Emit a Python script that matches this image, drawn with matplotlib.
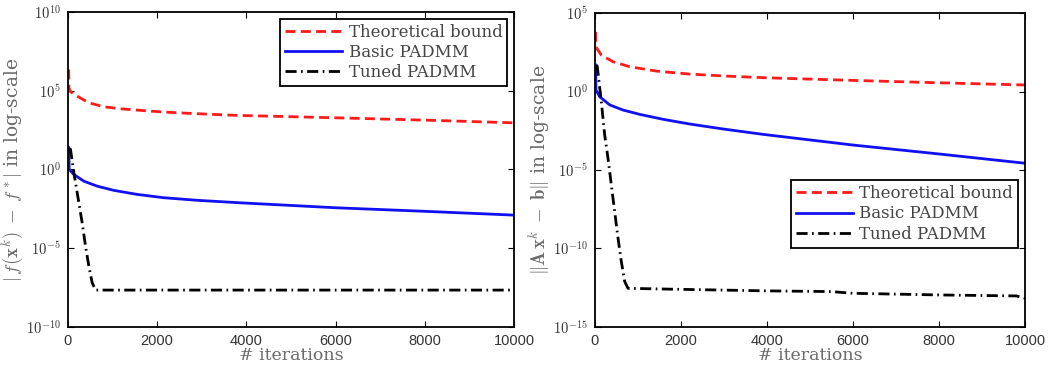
import math

import matplotlib

matplotlib.use("Agg")
import matplotlib.pyplot as plt
from matplotlib.ticker import FixedLocator, FuncFormatter

plt.rcParams["mathtext.fontset"] = "cm"
plt.rcParams["font.family"] = ["Liberation Sans", "DejaVu Sans"]

# --- data (iterations, value) ----------------------------------------------

# left panel: |f(x^k) - f*|
left_bound_k = [20, 25, 60, 209, 471, 807, 1181, 1630, 2152, 2751, 3274, 3789, 6000, 8000, 10000]
left_bound_v = [2.2e6, 1.55e5, 8.5e4, 4.5e4, 1.7e4, 9.5e3, 7.1e3, 5.6e3, 4.4e3, 3.6e3,
                3.1e3, 2.7e3, 1.9e3, 1.35e3, 9.1e2]
left_basic_k = [20, 30, 135, 359, 657, 1031, 1554, 2152, 2900, 3872, 6000, 8000, 10000]
left_basic_v = [24, 1.0, 0.48, 0.18, 0.087, 0.047, 0.026, 0.016, 0.011, 7.6e-3,
                3.7e-3, 2.2e-3, 1.26e-3]
left_tuned_k = [40, 60, 135, 247, 321, 396, 471, 545, 620, 10000]
left_tuned_v = [22, 18.6, 0.62, 7.6e-3, 4.1e-4, 1.35e-5, 7.2e-7, 6.5e-8, 2.2e-8, 2.2e-8]

# right panel: ||Ax^k - b||
right_bound_k = [20, 25, 155, 426, 814, 1434, 2209, 2984, 3915, 6000, 8000, 10000]
right_bound_v = [6.3e3, 7.1e2, 2.1e2, 79, 38, 20, 12.9, 9.8, 7.6, 5.1, 3.6, 2.6]
right_basic_k = [20, 30, 116, 349, 659, 1047, 1589, 2209, 2984, 3915, 6000, 8000, 10000]
right_basic_v = [49, 1.26, 0.47, 0.14, 0.066, 0.035, 0.017, 8.5e-3, 4.1e-3, 1.86e-3,
                 3.9e-4, 1.05e-4, 2.7e-5]
right_tuned_k = [38, 60, 155, 233, 310, 426, 543, 620, 698, 775, 2000, 4000, 5500,
                 6000, 8000, 9800, 10000]
right_tuned_v = [49, 40, 0.22, 1.7e-3, 5.5e-5, 1.6e-7, 4.5e-10, 1.45e-11, 7.9e-13,
                 2.9e-13, 2.5e-13, 2.0e-13, 1.8e-13, 1.4e-13, 1.1e-13, 9.5e-14, 6.8e-14]

series_labels = ["Theoretical bound", "Basic PADMM", "Tuned PADMM"]
x_ticks = [0, 2000, 4000, 6000, 8000, 10000]
left_y_ticks = [1e-10, 1e-5, 1e0, 1e5, 1e10]
right_y_ticks = [1e-15, 1e-10, 1e-5, 1e0, 1e5]

SERIF = ["DejaVu Serif"]
LABEL_GRAY = "#6a6a6a"
TICK_GRAY = "#333333"


def _style(ax, y_ticks, ylim):
    ax.set_yscale("log")
    ax.set_xlim(0, 10000)
    ax.set_ylim(*ylim)
    ax.xaxis.set_major_locator(FixedLocator(x_ticks))
    ax.yaxis.set_major_locator(FixedLocator(y_ticks))
    ax.yaxis.set_minor_locator(FixedLocator([]))
    ax.yaxis.set_major_formatter(
        FuncFormatter(lambda v, p: r"$\mathsf{10^{%d}}$" % round(math.log10(v)))
    )
    ax.tick_params(direction="in", top=True, right=True, length=4, width=0.8,
                   labelsize=10.5, colors="black", labelcolor=TICK_GRAY, pad=5)
    for spine in ax.spines.values():
        spine.set_linewidth(1.3)
    ax.set_xlabel("# iterations", family=SERIF, fontsize=12.5, color=LABEL_GRAY, labelpad=-1)


def _draw(ax, kb, vb, kba, vba, kt, vt):
    ax.plot(kb, vb, color="#ff1a1a", lw=2.0, ls=(0, (3.6, 1.9)))
    ax.plot(kba, vba, color="#1010f0", lw=2.0)
    ax.plot(kt, vt, color="black", lw=2.0, ls=(0, (4, 1.6, 0.6, 1.6)))


def _legend(ax, **kw):
    leg = ax.legend(series_labels, prop={"family": SERIF, "size": 12},
                    handlelength=3.4, handletextpad=0.4, labelspacing=0.2,
                    fancybox=False, framealpha=1, edgecolor="black",
                    borderpad=0.3, **kw)
    leg.get_frame().set_linewidth(1.3)
    for t in leg.get_texts():
        t.set_color("#444444")
    return leg


fig = plt.figure(figsize=(10.6, 3.72), dpi=100)
ax1 = fig.add_axes([0.064, 0.121, 0.421, 0.847])
ax2 = fig.add_axes([0.561, 0.121, 0.406, 0.844])

_draw(ax1, left_bound_k, left_bound_v, left_basic_k, left_basic_v, left_tuned_k, left_tuned_v)
_style(ax1, left_y_ticks, (1e-10, 1e10))
ax1.set_ylabel(r"$|\,f(\mathbf{x}^k)\;-\;f^*|$ in log-scale", family=SERIF,
               fontsize=13.5, color=LABEL_GRAY, labelpad=0)
_legend(ax1, loc="upper right", borderaxespad=0.4)

_draw(ax2, right_bound_k, right_bound_v, right_basic_k, right_basic_v, right_tuned_k, right_tuned_v)
_style(ax2, right_y_ticks, (1e-15, 1e5))
ax2.set_ylabel(r"$\|\mathbf{A}\,\mathbf{x}^k\;-\;\mathbf{b}\|$ in log-scale", family=SERIF,
               fontsize=13.5, color=LABEL_GRAY, labelpad=0)
_legend(ax2, loc="upper right", bbox_to_anchor=(0.984, 0.468), borderaxespad=0)

fig.savefig("out.png", dpi=100)
plt.close(fig)
